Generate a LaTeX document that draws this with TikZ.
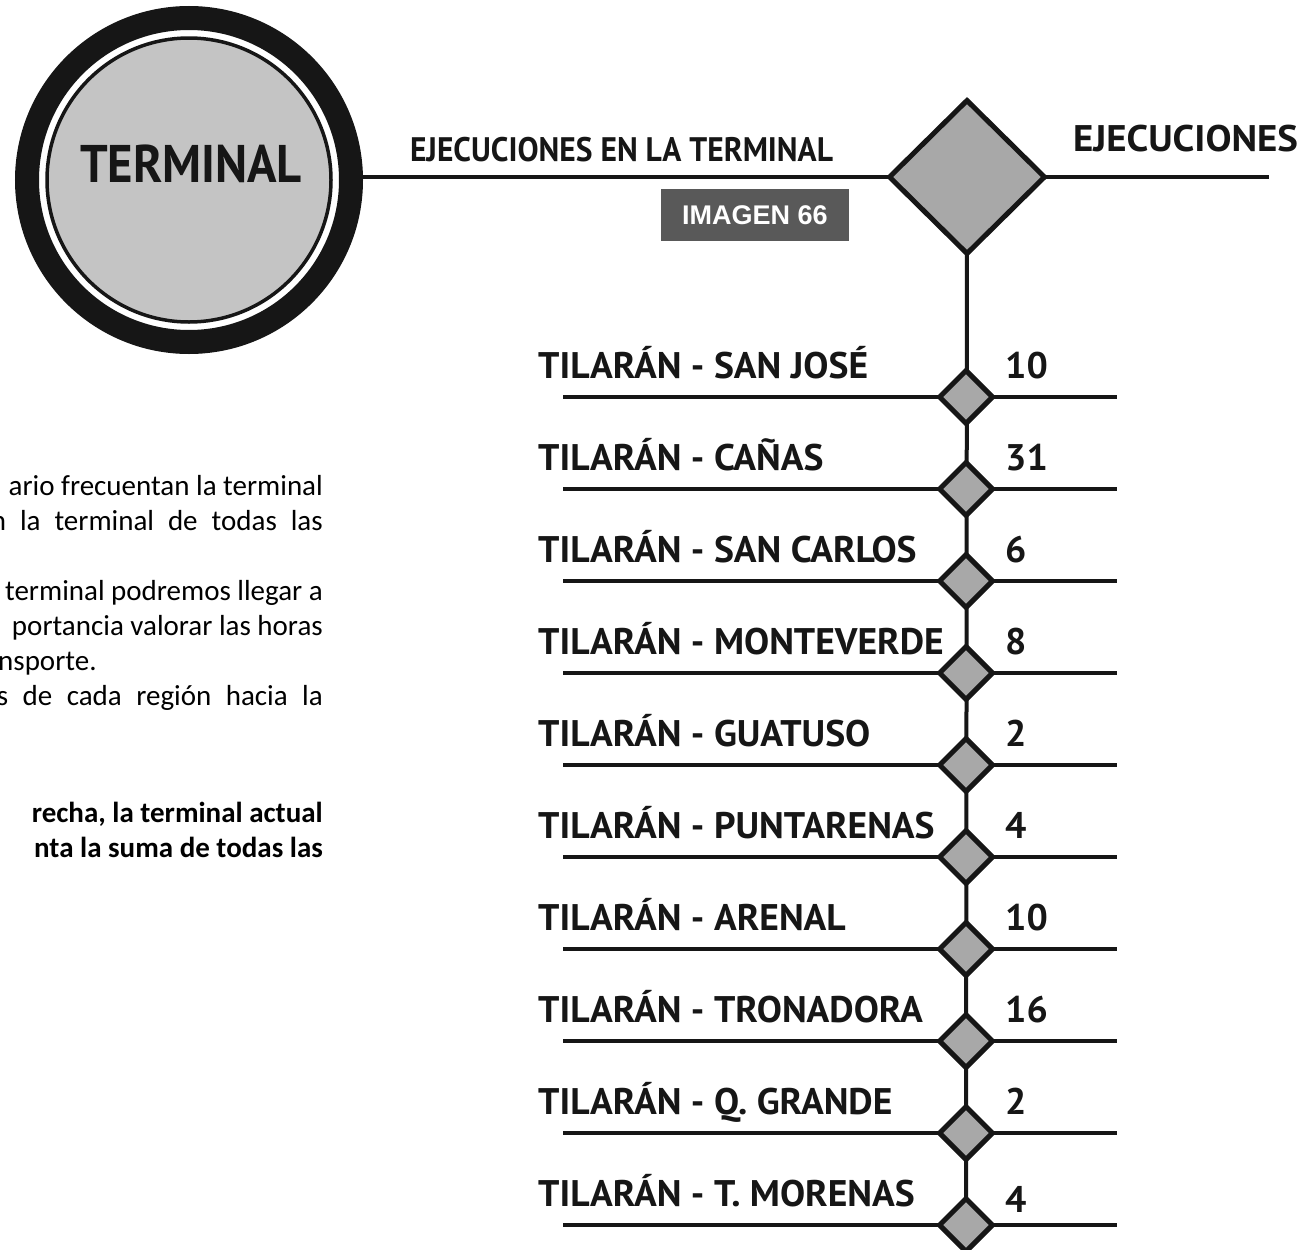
\documentclass[tikz,border=0pt]{standalone}
\usepackage{fontspec}
\setmainfont{PT Sans}
\newfontfamily\bodyfont{Carlito}
\newfontfamily\boxfont{Liberation Sans}
\usetikzlibrary{shapes.geometric,backgrounds}
\definecolor{cgray}{RGB}{196,196,196}
\definecolor{dgray}{RGB}{168,168,168}
\definecolor{boxgray}{RGB}{89,89,89}
\definecolor{ink}{RGB}{22,22,22}
\newlength\fitlen
\newcommand\fitto[3]{\settowidth\fitlen{#2#3}\pgfmathsetmacro\fitf{#1/\fitlen}\scalebox{\fitf}[1]{#2#3}}
\newcommand\labfont{\bfseries\fontsize{37}{37}\selectfont}
\begin{document}
\settowidth\fitlen{\labfont TILARÁN - SAN JOSÉ}%
\pgfmathsetmacro\labf{330/\fitlen}%
\begin{tikzpicture}[x=1pt,y=-1pt,
  conn/.style={line width=4pt, draw=ink},
  sdiam/.style={diamond, draw=ink, line width=5pt, fill=dgray, minimum width=55pt, minimum height=55pt, inner sep=0pt},
  lbl/.style={inner sep=0pt, anchor=base west, font=\labfont, text=ink},
  body/.style={inner sep=0pt, anchor=base east, font=\bodyfont\fontsize{29}{35}\selectfont, text=black}]
\useasboundingbox (0,0) rectangle (1315,1250);
\clip (0,0) rectangle (1315,1250);
% terminal circle
\node[circle, draw=ink, line width=24pt, fill=white, minimum size=324pt, inner sep=0pt] (term) at (189,180) {};
\node[circle, draw=ink, line width=3.5pt, fill=cgray, minimum size=284pt, inner sep=0pt] (termin) at (term.center) {};
\node[inner sep=0pt, anchor=base, text=ink] (termtxt) at (191,182) {\fitto{222}{\bfseries\fontsize{53}{53}\selectfont}{TERMINAL}};
% hub diamond
\node[diamond, draw=ink, line width=5pt, fill=dgray, minimum width=157pt, minimum height=155pt, inner sep=0pt] (hub) at (967,177) {};
\coordinate (ejend) at (1269,177);
\node[inner sep=0pt, anchor=base, text=ink] (ejl) at (621.5,161) {\fitto{423}{\bfseries\fontsize{34}{34}\selectfont}{EJECUCIONES EN LA TERMINAL}};
\node[inner sep=0pt, anchor=base, text=ink] (ejr) at (1185.5,151) {\fitto{225}{\bfseries\fontsize{37}{37}\selectfont}{EJECUCIONES}};
\node[fill=boxgray, minimum width=188pt, minimum height=52pt, inner sep=0pt, text=white, font=\boxfont\bfseries\fontsize{27}{27}\selectfont] (img) at (755,215) {IMAGEN 66};
% rows
\foreach \i/\lab/\n/\dy in {1/{TILARÁN - SAN JOSÉ}/10/0, 2/{TILARÁN - CAÑAS}/31/0, 3/{TILARÁN - SAN CARLOS}/6/0, 4/{TILARÁN - MONTEVERDE}/8/0, 5/{TILARÁN - GUATUSO}/2/0, 6/{TILARÁN - PUNTARENAS}/4/0, 7/{TILARÁN - ARENAL}/10/0, 8/{TILARÁN - TRONADORA}/16/0, 9/{TILARÁN - Q. GRANDE}/2/0, 10/{TILARÁN - T. MORENAS}/4/6} {
  \pgfmathsetmacro\yy{397+92*(\i-1)}
  \coordinate (L\i) at (563,\yy);
  \coordinate (R\i) at (1117,\yy);
  \node[sdiam] (d\i) at (966,\yy) {};
  \node[lbl] (lab\i) at (538,\yy-19) {\scalebox{\labf}[1]{\lab}};
  \node[lbl] (num\i) at (1005,\yy-19+\dy) {\scalebox{\labf}[1]{\n}};
}
\begin{pgfonlayer}{background}
\draw[conn] (term.center |- hub.center) -- (hub.center);
\draw[conn] (hub.center) -- (ejend);
\draw[conn] (hub.center) -- (d10.center);
\foreach \i in {1,...,10} \draw[conn] (L\i) -- (R\i);
\end{pgfonlayer}
% body text (cut at the left edge)
\node[body] (t1) at (323,495) {ario frecuentan la terminal};
\node[body] (t2) at (323,530) {\makebox[332pt][s]{n la terminal de todas las}};
\node[body] (t3) at (323,600) {terminal podremos llegar a};
\node[body] (t4) at (323,635) {portancia valorar las horas};
\node[body, anchor=base west] (t5) at (-2,670) {nsporte.};
\node[body] (t6) at (323,705) {\makebox[326pt][s]{s de cada región hacia la}};
\node[body] (t7) at (323,822) {\bfseries recha, la terminal actual};
\node[body] (t8) at (323,857) {\bfseries nta la suma de todas las};
\end{tikzpicture}
\end{document}
